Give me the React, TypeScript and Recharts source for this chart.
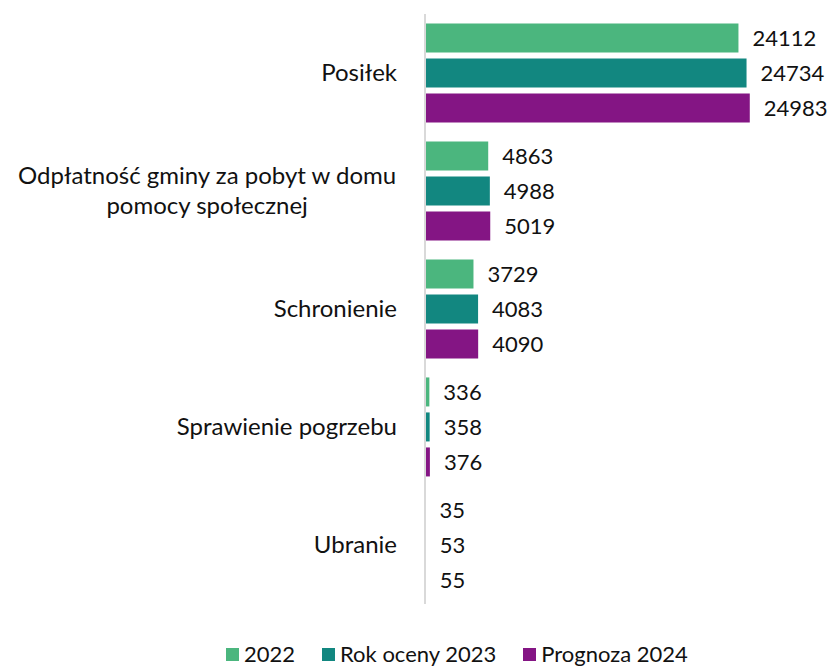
import React from "react";
import { BarChart, Bar, XAxis, YAxis, LabelList } from "recharts";

// Category labels (split into lines as in the source) and series values
const categories = [
  ["Posiłek"],
  ["Odpłatność gminy za pobyt w domu", "pomocy społecznej"],
  ["Schronienie"],
  ["Sprawienie pogrzebu"],
  ["Ubranie"],
];
const values2022 = [24112, 4863, 3729, 336, 35];
const values2023 = [24734, 4988, 4083, 358, 53];
const values2024 = [24983, 5019, 4090, 376, 55];

const series = [
  { key: "y2022", name: "2022", color: "#4bb67e" },
  { key: "y2023", name: "Rok oceny 2023", color: "#128780" },
  { key: "y2024", name: "Prognoza 2024", color: "#841584" },
];

const data = categories.map((lines, i) => ({
  name: lines.join(" "),
  y2022: values2022[i],
  y2023: values2023[i],
  y2024: values2024[i],
}));

const FONT = "Lato, 'Open Sans', sans-serif";
const CAT_SIZE = 24;
const LABEL_SIZE = 22;

let ctx: CanvasRenderingContext2D | null = null;
function textWidth(s: string) {
  if (!ctx) ctx = document.createElement("canvas").getContext("2d");
  if (!ctx) return s.length * 11;
  ctx.font = `${CAT_SIZE}px Lato`;
  return ctx.measureText(s).width;
}

function CategoryTick(props: any) {
  const { x, y, payload } = props;
  const lines = categories.find((l) => l.join(" ") === payload.value) || [payload.value];
  const maxW = Math.max(...lines.map(textWidth));
  const cx = x - maxW / 2;
  const lh = 30;
  const y0 = y - 2 - ((lines.length - 1) * lh) / 2;
  return (
    <text fontFamily={FONT} fontSize={CAT_SIZE} fill="#111" textAnchor="middle" dominantBaseline="central">
      {lines.map((l, i) => (
        <tspan key={i} x={cx} y={y0 + i * lh}>
          {l}
        </tspan>
      ))}
    </text>
  );
}

export default function App() {
  return (
    <div style={{ position: "relative", width: 828, height: 666, background: "#fff" }}>
      <style>{"body{margin:0}"}</style>
      <BarChart
        width={828}
        height={666}
        data={data}
        layout="vertical"
        margin={{ top: 14, right: 13, bottom: 62, left: 0 }}
        barCategoryGap="8%"
        barGap={6}
      >
        <XAxis type="number" domain={[0, 30000]} hide />
        <YAxis
          type="category"
          dataKey="name"
          width={425}
          axisLine={{ stroke: "#d9d9d9", strokeWidth: 2 }}
          tickLine={false}
          tick={<CategoryTick />}
          tickMargin={22}
        />
        {series.map((s) => (
          <Bar key={s.key} dataKey={s.key} name={s.name} fill={s.color} isAnimationActive={false}>
            <LabelList
              dataKey={s.key}
              position="right"
              offset={14}
              fill="#111"
              fontFamily={FONT}
              fontSize={LABEL_SIZE}
            />
          </Bar>
        ))}
      </BarChart>
      <div
        style={{
          position: "absolute",
          left: 226,
          top: 642,
          display: "flex",
          gap: 27,
          fontFamily: FONT,
          fontSize: 22,
          lineHeight: "24px",
          color: "#111",
          whiteSpace: "nowrap",
        }}
      >
        {series.map((s) => (
          <div key={s.key} style={{ display: "flex", alignItems: "center", gap: 5 }}>
            <span style={{ width: 13, height: 13, background: s.color, display: "inline-block" }} />
            <span>{s.name}</span>
          </div>
        ))}
      </div>
    </div>
  );
}
